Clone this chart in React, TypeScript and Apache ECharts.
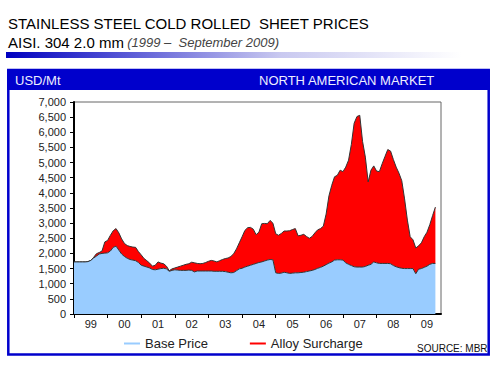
import React, { useEffect, useRef } from 'react';
import * as echarts from 'echarts';

// Year tick labels (one per year band)
const yearLabels = ['99', '00', '01', '02', '03', '04', '05', '06', '07', '08', '09'];

// Monthly base price, USD/Mt (Jan 1999 onwards)
const basePrice = [
  1720, 1720, 1720, 1720, 1720, 1730, 1770, 1850, 1910, 1980, 2000, 2010,
  2020, 2080, 2200, 2240, 2110, 1980, 1900, 1840, 1800, 1780, 1760, 1700,
  1610, 1580, 1550, 1520, 1470, 1460, 1480, 1500, 1510, 1490, 1410, 1440,
  1460, 1450, 1440, 1440, 1440, 1450, 1440, 1390, 1420, 1420, 1420, 1420,
  1420, 1420, 1410, 1410, 1410, 1410, 1400, 1380, 1360, 1370, 1430, 1490,
  1510, 1550, 1580, 1610, 1640, 1670, 1700, 1720, 1750, 1780, 1800, 1790,
  1360, 1340, 1350, 1380, 1360, 1340, 1350, 1360, 1360, 1370, 1380, 1400,
  1420, 1440, 1470, 1510, 1540, 1580, 1630, 1680, 1720, 1780, 1790, 1790,
  1780, 1690, 1640, 1600, 1560, 1550, 1550, 1550, 1570, 1610, 1640, 1720,
  1690, 1670, 1670, 1670, 1670, 1660, 1600, 1560, 1530, 1510, 1500, 1500,
  1500, 1500, 1330, 1480, 1500, 1540, 1580, 1640, 1670, 1670,
];

// Monthly alloy surcharge, USD/Mt
const alloySurcharge = [
  0, 0, 0, 0, 0, 0, 0, 20, 80, 50, 80, 370,
  410, 520, 550, 580, 570, 500, 430, 420, 430, 430, 440, 360,
  340, 250, 210, 160, 110, 150, 240, 180, 150, 90, 20, 50,
  60, 100, 140, 170, 200, 210, 270, 300, 250, 240, 250, 280,
  320, 350, 340, 310, 350, 390, 430, 470, 540, 620, 720, 860,
  1040, 1210, 1270, 1250, 1160, 950, 1000, 1260, 1240, 1200, 1290, 1210,
  1290, 1260, 1310, 1360, 1380, 1410, 1440, 1460, 1220, 1230, 1250, 1160,
  1080, 1120, 1210, 1270, 1280, 1320, 1670, 2220, 2530, 2750, 2790, 2960,
  2920, 3160, 3440, 4000, 4740, 4970, 5010, 4150, 3610, 2750, 3110, 3170,
  3030, 3030, 3290, 3530, 3760, 3720, 3500, 3290, 3120, 2890, 2300, 1600,
  1050, 950, 850, 770, 850, 1010, 1120, 1310, 1580, 1860,
];

const months: string[] = [];
for (let y = 1999; y <= 2009; y++) {
  for (let m = 1; m <= 12; m++) months.push(`${y}-${String(m).padStart(2, '0')}`);
}

const FONT = '"Liberation Sans", Arial, sans-serif';
const BLUE = '#0000cc';

export default function App() {
  const ref = useRef<HTMLDivElement>(null);
  useEffect(() => {
    if (!ref.current) return;
    const chart = echarts.init(ref.current, undefined, { renderer: 'svg' });
    chart.setOption({
      animation: false,
      backgroundColor: '#ffffff',
      textStyle: { fontFamily: FONT },
      graphic: [
        {
          type: 'text', x: 8, y: 23, z: 10,
          style: { text: 'STAINLESS STEEL COLD ROLLED  SHEET PRICES', fill: '#000', fontSize: 15, fontFamily: FONT, align: 'left', verticalAlign: 'middle' },
        },
        {
          type: 'text', x: 8, y: 42, z: 10,
          style: {
            text: '{a|AISI. 304 2.0 mm} {b|(1999 –  September 2009)}',
            align: 'left', verticalAlign: 'middle',
            rich: {
              a: { fontSize: 15, fontFamily: FONT, fill: '#000', color: '#000' },
              b: { fontSize: 13, fontFamily: FONT, fontStyle: 'italic', fill: '#444', color: '#444' },
            },
          },
        },
        {
          type: 'rect', z: 1,
          shape: { x: 6, y: 52, width: 455, height: 6 },
          style: {
            fill: new echarts.graphic.LinearGradient(0, 0, 1, 0, [
              { offset: 0, color: '#0000c0' },
              { offset: 0.6, color: '#c8c8f0' },
              { offset: 1, color: '#ffffff' },
            ]),
          },
        },
        {
          type: 'rect', z: 1,
          shape: { x: 7, y: 69.5, width: 483, height: 20.5 },
          style: { fill: BLUE },
        },
        {
          type: 'rect', z: 1,
          shape: { x: 8.3, y: 70, width: 480.4, height: 284.5 },
          style: { fill: 'none', stroke: BLUE, lineWidth: 2.5 },
        },
        {
          type: 'text', x: 15, y: 80, z: 10,
          style: { text: 'USD/Mt', fill: '#eeeeff', fontSize: 13, fontFamily: FONT, align: 'left', verticalAlign: 'middle' },
        },
        {
          type: 'text', x: 259, y: 80, z: 10,
          style: { text: 'NORTH AMERICAN MARKET', fill: '#eeeeff', fontSize: 13, fontFamily: FONT, align: 'left', verticalAlign: 'middle' },
        },
        {
          type: 'text', x: 417, y: 348, z: 10,
          style: { text: 'SOURCE: MBR', fill: '#111', fontSize: 10, fontFamily: FONT, align: 'left', verticalAlign: 'middle' },
        },
      ],
      grid: {
        left: 74, right: 59, top: 102, bottom: 57,
        show: true, borderColor: '#666', borderWidth: 1, backgroundColor: 'transparent',
      },
      legend: {
        left: 119, top: 332,
        itemWidth: 16, itemHeight: 2, itemGap: 42,
        textStyle: { fontSize: 13, color: '#222', fontFamily: FONT },
        data: [
          { name: 'Base Price', icon: 'rect', itemStyle: { color: '#99ccff', borderWidth: 0 } },
          { name: 'Alloy Surcharge', icon: 'rect', itemStyle: { color: '#ff0000', borderWidth: 0 } },
        ],
      },
      xAxis: {
        type: 'category',
        data: months,
        boundaryGap: false,
        axisLine: { show: true, lineStyle: { color: '#000', width: 2 } },
        axisTick: { show: true, length: 4, interval: (i: number) => i % 12 === 0, lineStyle: { color: '#000' } },
        axisLabel: {
          interval: (i: number) => i % 12 === 6,
          formatter: (_v: string, i: number) => yearLabels[Math.floor(i / 12)],
          color: '#222', fontSize: 11, margin: 4, fontFamily: FONT,
        },
        splitLine: { show: false },
      },
      yAxis: {
        type: 'value',
        min: 0, max: 7000, interval: 500,
        axisLine: { show: true, lineStyle: { color: '#000', width: 2 } },
        axisTick: { show: true, length: 4, lineStyle: { color: '#000' } },
        axisLabel: {
          formatter: (v: number) => v.toLocaleString('en-US'),
          color: '#222', fontSize: 11, margin: 8, fontFamily: FONT,
        },
        splitLine: { show: false },
      },
      series: [
        {
          name: 'Base Price', type: 'line', stack: 'price', z: 3,
          data: basePrice, symbol: 'none', showSymbol: false,
          lineStyle: { color: '#333', width: 1 },
          itemStyle: { color: '#99ccff' },
          areaStyle: { color: '#99ccff', opacity: 1 },
        },
        {
          name: 'Alloy Surcharge', type: 'line', stack: 'price', z: 2,
          data: alloySurcharge, symbol: 'none', showSymbol: false,
          lineStyle: { color: '#333', width: 1 },
          itemStyle: { color: '#ff0000' },
          areaStyle: { color: '#ff0000', opacity: 1 },
        },
      ],
    });
    return () => chart.dispose();
  }, []);
  return <div ref={ref} style={{ position: 'fixed', left: 0, top: 0, width: 500, height: 371 }} />;
}
